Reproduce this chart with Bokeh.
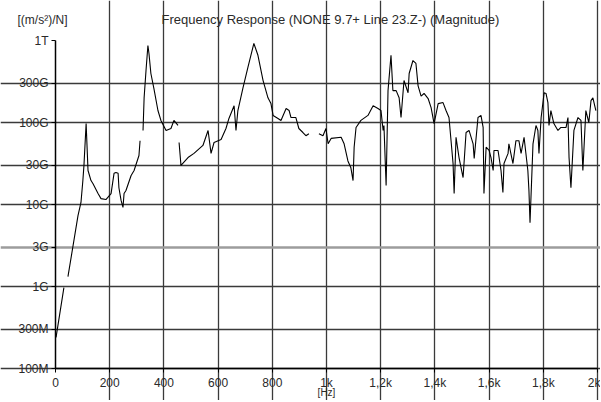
from bokeh.plotting import figure
from bokeh.models import FixedTicker, Label, Range1d, Grid
from bokeh.embed import file_html
from bokeh.resources import INLINE

nan = float("nan")

# frequency [Hz]
freq = [2, 31, nan, 46, 83, 94, 101, 105, 113, 120, 131, 138, 157, 168, 186, 205, 216, 223, 231, 234,
        242, 249, 253, 260, 279, 290, 308, 312, nan, 323, 327, 334, 341, 345, 352, 363, 378, 389, 408,
        426, 437, 452, nan, 456, 463, 489, 511, 544, 563, 574, 585, 611, 629, 640, 659, 666, 673, 692,
        710, 732, 747, 766, 784, 795, 803, 821, 832, 851, 862, 869, 887, 898, 913, 924, 935, nan,
        972, 987, 998, 1006, 1017, 1054, 1065, 1079, 1090, 1098, 1102, 1109, 1127, 1153, 1172, 1190,
        1201, 1209, 1212, 1220, 1227, 1238, 1245, 1257, 1268, 1275, 1286, 1301, 1305, 1319, 1330,
        1338, 1349, 1360, 1375, 1386, 1397, 1412, 1430, 1441, 1452, 1467, 1471, 1478, 1489, 1504,
        1515, 1526, 1541, 1545, 1559, 1570, 1578, 1581, 1589, 1600, 1607, 1615, 1618, 1633, 1644,
        1651, 1655, 1670, 1673, 1688, 1699, 1710, 1718, 1729, 1743, 1747, 1751, 1762, 1773, 1780,
        1784, 1792, 1803, 1810, 1817, 1821, 1828, 1839, 1854, 1865, 1884, 1891, 1895, 1902, 1913,
        1928, 1939, 1946, 1957, 1968, 1976, 1983, 1994]

# magnitude [(m/s^2)/N]
magnitude = [2.4e8, 9.7e8, nan, 1.32e9, 7.3e9, 1.06e10, 1.96e10, 3.0e10, 9.7e10, 2.6e10, 1.96e10,
             1.8e10, 1.36e10, 1.18e10, 1.15e10, 1.36e10, 2.4e10, 2.45e10, 2.4e10, 1.6e10,
             1.12e10, 9.2e9, 1.36e10, 1.48e10, 2.26e10, 2.6e10, 3.96e10, 6.0e10, nan, 8.0e10,
             2.0e11, 4.3e11, 8.7e11, 6.9e11, 3.96e11, 2.6e11, 1.4e11, 1.06e11, 8.0e10,
             8.45e10, 1.06e11, 9.2e10, nan, 5.7e10, 3.0e10, 3.74e10, 4.2e10, 5.25e10, 8.0e10,
             4.2e10, 5.7e10, 6.2e10, 8.45e10, 1.12e11, 1.6e11, 8.0e10, 1.4e11, 2.67e11,
             4.7e11, 9.2e11, 6.6e11, 3.25e11, 2.0e11, 1.7e11, 1.22e11, 1.12e11, 1.06e11,
             1.48e11, 1.4e11, 1.15e11, 1.15e11, 8.45e10, 7.55e10, 6.9e10, 7.3e10, nan,
             7.3e10, 6.9e10, 8.45e10, 5.5e10, 6.4e10, 6.6e10, 5.5e10, 3.4e10, 2.8e10, 1.96e10,
             5.0e10, 8.7e10, 1.06e11, 1.22e11, 1.6e11, 1.48e11,
             1.4e11, 8.0e10, 9.2e10, 1.7e10, 2.45e11, 6.6e11, 2.45e11, 2.45e11, 2.0e11,
             1.15e11, 3.25e11, 2.3e11, 3.96e11, 5.7e11, 5.25e11,
             2.8e11, 2.1e11, 2.26e11, 1.96e11, 1.52e11, 9.7e10, 1.7e11, 1.75e11, 1.4e11,
             1.15e11, 3.16e10, 1.36e10, 6.6e10, 3.74e10, 2.13e10,
             7.55e10, 8.0e10, 5.5e10, 3.64e10, 1.15e11, 1.22e11, 8.7e10, 1.36e10, 5.0e10,
             4.56e10, 3.74e10, 2.6e10, 4.56e10, 4.56e10, 2.6e10,
             1.4e10, 3.16e10, 4.2e10, 5.5e10, 3.16e10, 6.0e10, 6.0e10, 4.2e10, 6.6e10, 2.6e10,
             1.48e10, 6.0e9, 5.5e10, 9.2e10, 8.0e10,
             4.2e10, 1.15e11, 2.3e11, 2.26e11, 1.75e11, 9.2e10, 1.4e11, 9.7e10, 8.0e10, 8.7e10,
             8.7e10, 1.15e11, 3.74e10, 1.6e10, 8.0e10,
             1.15e11, 1.06e11, 2.6e10, 1.4e11, 1.0e11, 1.85e11, 2.0e11, 1.4e11]

x_ticks = [0, 200, 400, 600, 800, 1000, 1200, 1400, 1600, 1800, 2000]
x_tick_labels = ["0", "200", "400", "600", "800", "1k", "1,2k", "1,4k", "1,6k", "1,8k", "2k"]
y_ticks = [100000000, 300000000, 1000000000, 3000000000, 10000000000, 30000000000,
           100000000000, 300000000000, 1000000000000]
y_tick_labels = ["100M", "300M", "1G", "3G", "10G", "30G", "100G", "300G", "1T"]

title_text = "Frequency Response (NONE 9.7+ Line 23.Z-) (Magnitude)"
unit_text = "[(m/s²)/N]"
x_unit_text = "[Hz]"

FONT = "Liberation Sans"
TXT = "#2a2a2a"
GRID = "#3a3a3a"

# ---- layout (pixels): the frame fills the whole canvas, the axes sit at fixed data locations
W, H = 600, 400
X0_PX, X1_PX = 55, 597        # pixel columns of 0 Hz and 2 kHz
YT_PX, YB_PX = 40, 368        # pixel rows of 1T and 100M
x_lo, x_hi = x_ticks[0], x_ticks[-1]
y_lo, y_hi = y_ticks[0], y_ticks[-1]
sx = (X1_PX - X0_PX) / (x_hi - x_lo)
dec_px = (YB_PX - YT_PX) / 4.0


def px_x(px):
    return x_lo + (px - X0_PX) / sx


def px_y(py):
    return y_lo * 10 ** ((YB_PX - py) / dec_px)


p = figure(width=W, height=H, y_axis_type="log",
           x_range=Range1d(px_x(0), px_x(W)), y_range=Range1d(px_y(H), px_y(0)),
           output_backend="svg", toolbar_location=None,
           min_border=0, min_border_left=0, min_border_right=0,
           min_border_top=0, min_border_bottom=0)
p.outline_line_color = None
p.background_fill_color = "white"
p.border_fill_color = "white"

p.line(freq, magnitude, line_color="black", line_width=1.1)

# axes
p.xaxis.ticker = FixedTicker(ticks=x_ticks)
p.xaxis.major_label_overrides = dict(zip(x_ticks, x_tick_labels))
p.yaxis.ticker = FixedTicker(ticks=y_ticks)
p.yaxis.major_label_overrides = dict(zip(y_ticks, y_tick_labels))
p.xaxis.fixed_location = y_lo
p.yaxis.fixed_location = x_lo
p.xaxis.bounds = (x_lo, x_hi)
p.yaxis.bounds = (y_lo, y_hi)
for ax in (p.xaxis[0], p.yaxis[0]):
    ax.axis_line_color = "black"
    ax.axis_line_width = 1.5
    ax.major_tick_line_color = "black"
    ax.major_tick_in = 0
    ax.major_tick_out = 4
    ax.minor_tick_line_color = None
    ax.major_label_text_font = FONT
    ax.major_label_text_font_size = "12px"
    ax.major_label_text_color = TXT
    ax.major_label_standoff = 3

# grid
p.xgrid.ticker = FixedTicker(ticks=x_ticks[1:])
p.xgrid.grid_line_color = GRID
p.xgrid.grid_line_width = 1.3
p.xgrid.bounds = (y_lo, y_hi)
grid_y = [t for t in y_ticks if t not in (3000000000, 1000000000000)]
p.ygrid.ticker = FixedTicker(ticks=grid_y)
p.ygrid.grid_line_color = GRID
p.ygrid.grid_line_width = 1.3
p.ygrid.bounds = (x_lo, x_hi)
p.add_layout(Grid(dimension=1, ticker=FixedTicker(ticks=[y_ticks[3]]), bounds=(x_lo, x_hi),
                  grid_line_color="#9c9c9c", grid_line_width=2.5))

# texts
p.add_layout(Label(x=px_x(330), y=px_y(19), text=title_text,
                   text_align="center", text_baseline="middle", text_font=FONT,
                   text_font_size="13px", text_color=TXT))
p.add_layout(Label(x=px_x(42), y=px_y(19), text=unit_text,
                   text_align="center", text_baseline="middle", text_font=FONT,
                   text_font_size="12px", text_color=TXT))
p.add_layout(Label(x=x_ticks[5], y=px_y(392), text=x_unit_text,
                   text_align="center", text_baseline="middle", text_font=FONT,
                   text_font_size="10px", text_color=TXT))

open("out.html", "w").write(file_html(p, INLINE))
